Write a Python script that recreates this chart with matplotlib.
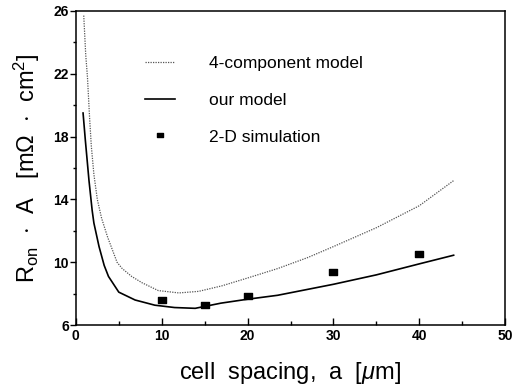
import matplotlib
matplotlib.use("Agg")
import matplotlib.pyplot as plt
from matplotlib.path import Path

plt.rcParams['font.family'] = ['Liberation Sans', 'DejaVu Sans']
plt.rcParams['mathtext.fontset'] = 'custom'
plt.rcParams['mathtext.rm'] = 'Liberation Sans'
plt.rcParams['mathtext.it'] = 'Liberation Sans:italic'

# ---- data ----
a_4comp = [0.92, 1.15, 1.35, 1.6, 1.8, 2.1, 2.5, 3.0, 3.7, 4.8, 5.4, 6.5, 7.7, 9.6, 12,
           14.3, 17, 20, 23.5, 27, 30, 35, 40, 44]
r_4comp = [25.7, 23.2, 21.8, 19.2, 17.4, 15.6, 14.0, 12.8, 11.6, 10.0, 9.6, 9.1, 8.7, 8.2, 8.05,
           8.15, 8.5, 9.0, 9.6, 10.3, 11.0, 12.2, 13.6, 15.2]

a_model = [0.84, 1.1, 1.53, 1.9, 2.1, 2.7, 3.3, 3.8, 5.0, 6.9, 9.2, 11.5, 13.9, 16.9, 20,
           23.5, 30, 35, 40, 44]
r_model = [19.5, 17.8, 15.2, 13.3, 12.5, 11.0, 9.8, 9.1, 8.1, 7.6, 7.27, 7.12, 7.07, 7.4, 7.65,
           7.9, 8.6, 9.2, 9.9, 10.45]

a_sim = [10, 15, 20, 30, 40]
r_sim = [7.6, 7.27, 7.85, 9.4, 10.5]

# wide flat rectangle marker like the printed one
rect = Path([(-1, -0.7), (1, -0.7), (1, 0.7), (-1, 0.7), (-1, -0.7)],
            [Path.MOVETO, Path.LINETO, Path.LINETO, Path.LINETO, Path.CLOSEPOLY])

fig = plt.figure(figsize=(5.16, 3.88), dpi=100)
ax = fig.add_axes([0.147, 0.162, 0.832, 0.81])

ax.plot(a_4comp, r_4comp, color='#555555', lw=0.9, ls=(0, (1, 1)), label='4-component model')
ax.plot(a_model, r_model, color='black', lw=1.2, label='our model')
ax.plot(a_sim, r_sim, ls='none', marker=rect, ms=6.2, color='black', label='2-D simulation')

ax.set_xlim(0, 50)
ax.set_ylim(6, 26)
ax.set_xticks([0, 10, 20, 30, 40, 50])
ax.set_xticks([5, 15, 25, 35, 45], minor=True)
ax.set_yticks([6, 10, 14, 18, 22, 26])
ax.set_yticks([8, 12, 16, 20, 24], minor=True)
ax.tick_params(axis='x', which='both', direction='in', labelsize=10, width=1.0, pad=3)
ax.tick_params(axis='x', which='major', length=5)
ax.tick_params(axis='x', which='minor', length=3)
ax.tick_params(axis='y', which='both', direction='out', labelsize=10, width=1.0, pad=1)
ax.tick_params(axis='y', which='major', length=4)
ax.tick_params(axis='y', which='minor', length=2)
for lab in ax.get_xticklabels() + ax.get_yticklabels():
    lab.set_fontweight('bold')
for sp in ax.spines.values():
    sp.set_linewidth(1.1)

ax.set_xlabel(r"cell  spacing,  a  [$\mu$m]", fontsize=17, labelpad=12)
ax.set_ylabel(r"R$_{\rm on}$  $\cdot$  A   [m$\Omega$  $\cdot$  cm$^2$]", fontsize=17, labelpad=8)

ax.legend(loc='upper left', bbox_to_anchor=(0.125, 0.905), frameon=False, fontsize=12.5,
          labelspacing=1.23, handlelength=1.7, handletextpad=2.0, markerscale=0.8)

fig.savefig("out.png", dpi=100)
